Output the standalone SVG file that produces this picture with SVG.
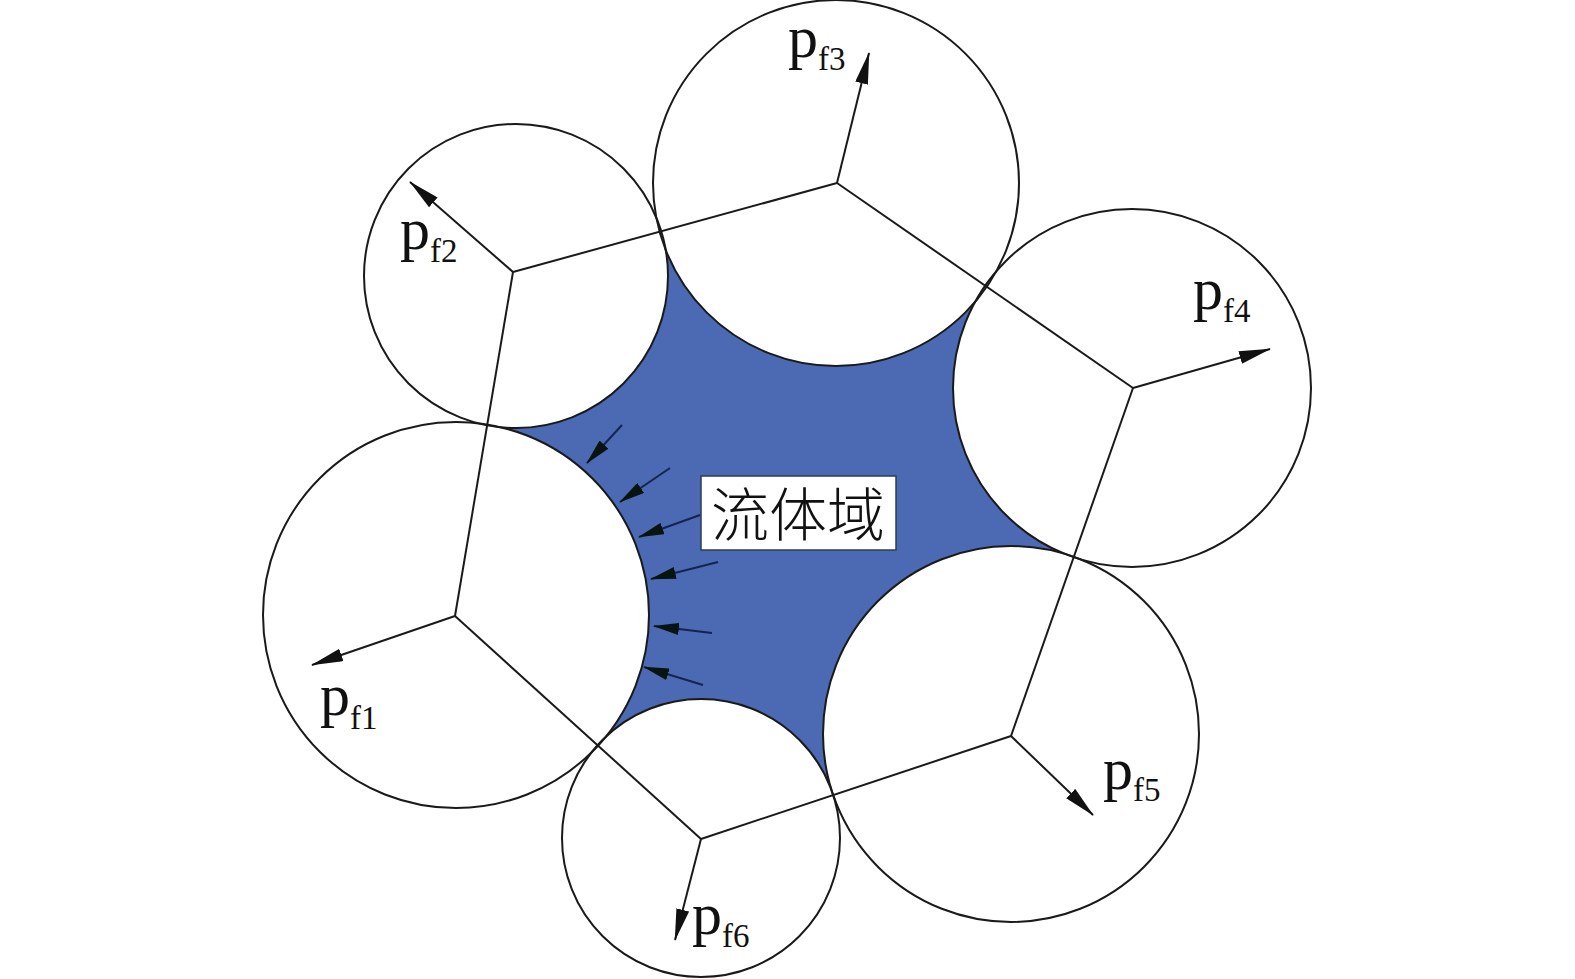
<svg xmlns="http://www.w3.org/2000/svg" width="1575" height="979" viewBox="0 0 1575 979">
<style>
.ring{fill:none;stroke:#1a1a1a;stroke-width:2}
.edge{stroke:#1a1a1a;stroke-width:2;fill:none}
.force{stroke:#1a1a1a;stroke-width:2;fill:none;marker-end:url(#ah)}
.flow{stroke:#14244f;stroke-width:2;fill:none;marker-end:url(#sah)}
.lbl{font-family:"Liberation Serif","Times New Roman",serif;font-size:60px;fill:#111}
.sub{font-family:"Liberation Serif","Times New Roman",serif;font-size:33px}
.cjk{font-family:"Noto Sans CJK SC","Noto Sans CJK JP",sans-serif;font-size:58px;font-weight:300;fill:#111}
</style>
<defs>
<marker id="ah" viewBox="0 0 32 13" refX="31" refY="6.5" markerWidth="32" markerHeight="13" markerUnits="userSpaceOnUse" orient="auto">
<path d="M0,0 L32,6.5 L0,13 Z" fill="#111"/>
</marker>
<marker id="sah" viewBox="0 0 26 12" refX="25" refY="6" markerWidth="26" markerHeight="12" markerUnits="userSpaceOnUse" orient="auto">
<path d="M0,0 L26,6 L0,12 Z" fill="#07140f"/>
</marker>
<mask id="holes" maskUnits="userSpaceOnUse" x="0" y="0" width="1575" height="979">
<rect x="0" y="0" width="1575" height="979" fill="#fff"/>
<circle cx="456" cy="615" r="193" fill="#000"/>
<circle cx="516" cy="276" r="152" fill="#000"/>
<circle cx="836" cy="183" r="183" fill="#000"/>
<circle cx="1132" cy="388" r="179" fill="#000"/>
<circle cx="1011" cy="734" r="188" fill="#000"/>
<circle cx="701" cy="838" r="139" fill="#000"/>
</mask>
</defs>
<rect x="0" y="0" width="1575" height="979" fill="#fff"/>

<g id="fluid-domain">
<polygon points="455,616 513,272 837,183 1133,388 1011,736 701,839" fill="#4b6ab3" mask="url(#holes)"/>
<line class="flow" x1="622" y1="425" x2="587" y2="463"/>
<line class="flow" x1="670" y1="468" x2="620" y2="502"/>
<line class="flow" x1="700" y1="515" x2="639" y2="537"/>
<line class="flow" x1="718" y1="562" x2="651" y2="579"/>
<line class="flow" x1="712" y1="633" x2="654" y2="626"/>
<line class="flow" x1="703" y1="685" x2="644" y2="667"/>
</g>

<g id="particle-1">
<circle class="ring" cx="456" cy="615" r="193"/>
<line class="force" x1="455" y1="616" x2="312" y2="665"/>
<text class="lbl" x="320" y="715">p<tspan class="sub" dy="14">f1</tspan></text>
</g>
<g id="particle-2">
<circle class="ring" cx="516" cy="276" r="152"/>
<line class="force" x1="513" y1="272" x2="410" y2="182"/>
<text class="lbl" x="400" y="249">p<tspan class="sub" dy="13">f2</tspan></text>
</g>
<g id="particle-3">
<circle class="ring" cx="836" cy="183" r="183"/>
<line class="force" x1="837" y1="183" x2="869" y2="53"/>
<text class="lbl" x="788" y="57">p<tspan class="sub" dy="13">f3</tspan></text>
</g>
<g id="particle-4">
<circle class="ring" cx="1132" cy="388" r="179"/>
<line class="force" x1="1133" y1="388" x2="1270" y2="349"/>
<text class="lbl" x="1193" y="309">p<tspan class="sub" dy="13">f4</tspan></text>
</g>
<g id="particle-5">
<circle class="ring" cx="1011" cy="734" r="188"/>
<line class="force" x1="1011" y1="736" x2="1093" y2="815"/>
<text class="lbl" x="1103" y="789">p<tspan class="sub" dy="12">f5</tspan></text>
</g>
<g id="particle-6">
<circle class="ring" cx="701" cy="838" r="139"/>
<line class="force" x1="701" y1="839" x2="675" y2="940"/>
<text class="lbl" x="692" y="934">p<tspan class="sub" dy="13">f6</tspan></text>
</g>

<g id="connectors">
<line class="edge" x1="455" y1="616" x2="513" y2="272"/>
<line class="edge" x1="513" y1="272" x2="837" y2="183"/>
<line class="edge" x1="837" y1="183" x2="1133" y2="388"/>
<line class="edge" x1="1133" y1="388" x2="1011" y2="736"/>
<line class="edge" x1="1011" y1="736" x2="701" y2="839"/>
<line class="edge" x1="701" y1="839" x2="455" y2="616"/>
</g>

<g id="fluid-label">
<rect x="701" y="476" width="195" height="74" fill="#fff" stroke="#2c3e50" stroke-width="1.5"/>
<text class="cjk" x="798" y="536" text-anchor="middle">流体域</text>
</g>
</svg>
